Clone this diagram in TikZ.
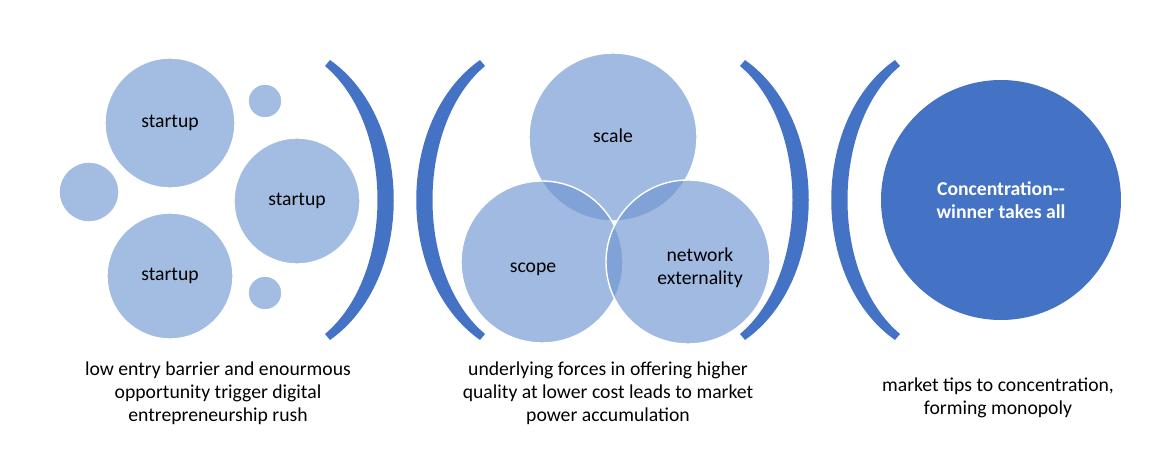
\documentclass[tikz,border=0pt]{standalone}
\usepackage{fontspec}
\setmainfont{Carlito}
\tikzset{
  light/.style={fill=lightblue,draw=white,line width=1pt},
  venn/.style={fill=vennblue,fill opacity=0.65,draw=white,line width=1pt},
  bracket/.style={fill=darkblue,draw=none},
  lbl/.style={font=\fontsize{14}{16.5}\selectfont,align=center}
}
\definecolor{lightblue}{HTML}{A3BDE2}
\definecolor{vennblue}{HTML}{6F95D2}
\definecolor{darkblue}{HTML}{4472C4}
\begin{document}
\begin{tikzpicture}[x=0.025cm,y=-0.025cm,join=round]
\useasboundingbox (0,0) rectangle (1160,473);
% startups
\path[light] (170,123) circle (65) (297,201) circle (63) (170,276) circle (63)
  (265,101) circle (17) (89,192) circle (30) (265,293) circle (17);
\node[lbl] (s1) at (170,123) {startup};
\node[lbl] (s2) at (297,201) {startup};
\node[lbl] (s3) at (170,276) {startup};
% brackets
\foreach \xa in {330,745} {
  \fill[bracket] (\xa,60) .. controls (\xa+85,120) and (\xa+85,280) .. (\xa,340)
    -- (\xa-5,334) .. controls (\xa+65,275) and (\xa+65,125) .. (\xa-5,66) -- cycle;
}
\foreach \xa in {480,895} {
  \fill[bracket] (\xa,60) .. controls (\xa-85,120) and (\xa-85,280) .. (\xa,340)
    -- (\xa+5,334) .. controls (\xa-65,275) and (\xa-65,125) .. (\xa+5,66) -- cycle;
}
% venn
\path[venn] (613,137) circle (84);
\path[venn] (542,262) circle (81);
\path[venn] (688,262) circle (82);
\node[lbl] (scale) at (613,136) {scale};
\node[lbl] (scope) at (533,269) {scope};
\node[lbl] (net) at (700,268) {network\\externality};
% monopoly
\fill[darkblue] (1001,200) circle (120);
\node[lbl,text=white,font=\fontsize{14}{16.5}\selectfont\bfseries] (mono) at (1001,200) {Concentration-{}-\\winner takes all};
% captions
\node[lbl] (c1) at (218,393) {low entry barrier and enourmous\\opportunity trigger digital\\entrepreneurship rush};
\node[lbl] (c2) at (608,393) {underlying forces in offering higher\\quality at lower cost leads to market\\power accumulation};
\node[lbl] (c3) at (998,398) {market tips to concentration,\\forming monopoly};
\end{tikzpicture}
\end{document}
